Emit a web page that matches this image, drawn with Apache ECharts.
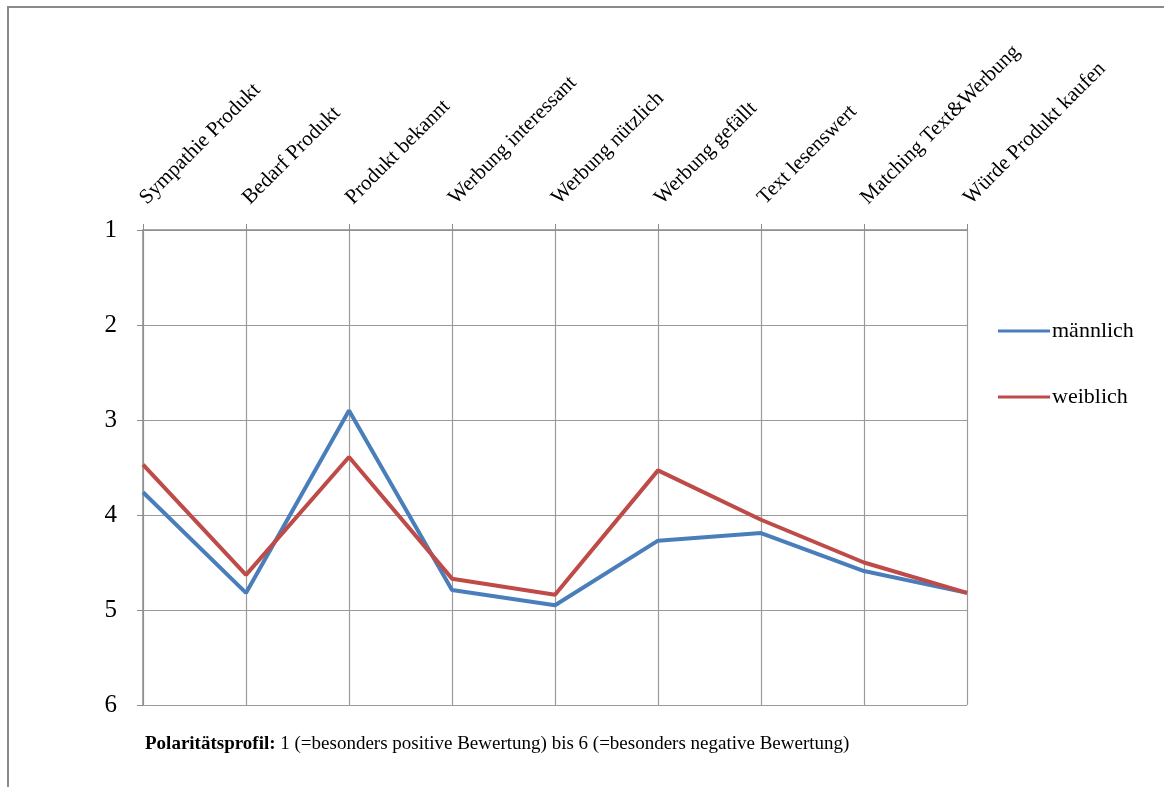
<!DOCTYPE html>
<html>
<head>
<meta charset="utf-8">
<script src="https://cdn.jsdelivr.net/npm/echarts@6/dist/echarts.min.js"></script>
<style>
  html, body { margin: 0; padding: 0; background: #fff; }
  #chart { width: 1164px; height: 787px; }
</style>
</head>
<body>
<div id="chart"></div>
<script>
  // Kategorien (Polaritätsprofil)
  const categories = [
    'Sympathie Produkt', 'Bedarf Produkt', 'Produkt bekannt',
    'Werbung interessant', 'Werbung nützlich', 'Werbung gefällt',
    'Text lesenswert', 'Matching Text&Werbung', 'Würde Produkt kaufen'
  ];
  const maennlich = [3.76, 4.82, 2.90, 4.79, 4.95, 4.27, 4.19, 4.59, 4.82];
  const weiblich = [3.47, 4.63, 3.39, 4.67, 4.84, 3.53, 4.05, 4.50, 4.82];
  const seriesNames = ['männlich', 'weiblich'];
  const yTicks = [1, 2, 3, 4, 5, 6];

  const serif = '"Liberation Serif", "DejaVu Serif", serif';
  const myChart = echarts.init(document.getElementById('chart'));

  myChart.setOption({
    backgroundColor: '#fff',
    animation: false,
    color: ['#4A7EBB', '#BE4B48'],
    graphic: [{
      type: 'rect',
      shape: { x: 8, y: 7, width: 1200, height: 820 },
      style: { fill: 'none', stroke: '#8a8a8a', lineWidth: 2 },
      silent: true
    }],
    title: {
      left: 140,
      top: 730,
      text: '{b|Polaritätsprofil:} 1 (=besonders positive Bewertung) bis 6 (=besonders negative Bewertung)',
      textStyle: {
        fontFamily: serif,
        fontSize: 19,
        fontWeight: 'normal',
        color: '#000',
        rich: {
          b: { fontFamily: serif, fontSize: 19, fontWeight: 'bold', color: '#000' }
        }
      }
    },
    legend: {
      orient: 'vertical',
      left: 993,
      top: 315,
      itemGap: 44,
      itemWidth: 52,
      itemHeight: 3,
      icon: 'rect',
      data: seriesNames,
      textStyle: { fontFamily: serif, fontSize: 22, color: '#000', padding: [0, 0, 0, -3] }
    },
    grid: {
      left: 143,
      right: 197,
      top: 230,
      bottom: 82,
      containLabel: false
    },
    xAxis: {
      type: 'category',
      position: 'top',
      boundaryGap: false,
      data: categories,
      axisLine: { lineStyle: { color: '#8c8c8c', width: 1.5 } },
      axisTick: { show: true, length: 6, lineStyle: { color: '#8c8c8c' } },
      axisLabel: {
        rotate: -45,
        margin: 29,
        interval: 0,
        fontFamily: serif,
        fontSize: 21,
        color: '#000'
      },
      splitLine: { show: true, lineStyle: { color: '#9a9a9a', width: 1.2 } }
    },
    yAxis: {
      type: 'value',
      inverse: true,
      min: yTicks[0],
      max: yTicks[yTicks.length - 1],
      interval: 1,
      axisLine: { show: true, lineStyle: { color: '#8c8c8c', width: 1.5 } },
      axisTick: { show: true, length: 6, lineStyle: { color: '#8c8c8c' } },
      axisLabel: {
        margin: 26,
        fontFamily: serif,
        fontSize: 25,
        color: '#000'
      },
      splitLine: { show: true, lineStyle: { color: '#9a9a9a', width: 1.2 } }
    },
    series: [
      {
        name: seriesNames[0],
        type: 'line',
        data: maennlich,
        symbol: 'none',
        lineStyle: { width: 4 }
      },
      {
        name: seriesNames[1],
        type: 'line',
        data: weiblich,
        symbol: 'none',
        lineStyle: { width: 4 }
      }
    ]
  });
</script>
</body>
</html>
